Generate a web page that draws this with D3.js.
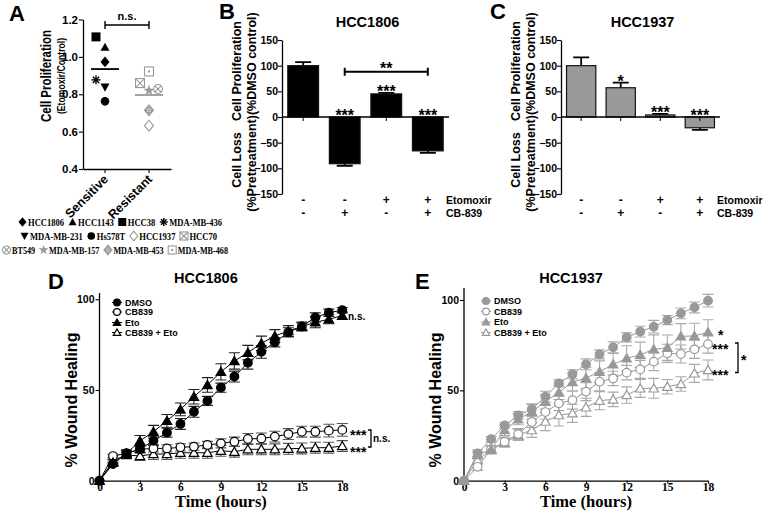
<!DOCTYPE html>
<html><head><meta charset="utf-8">
<script src="https://cdn.jsdelivr.net/npm/d3@7"></script>
<style>body{margin:0;background:#fff}svg{display:block}</style>
</head><body>
<svg id="c" width="768" height="511"></svg>
<script>
// ---------------- DATA ----------------
// Panel A
const groupLabels = ["Sensitive", "Resistant"];
const sensitiveLines = ["HCC38", "HCC1143", "HCC1806", "MDA-MB-436", "MDA-MB-231", "Hs578T"];
const sensitiveValues = [1.107, 1.052, 0.973, 0.877, 0.838, 0.762];
const resistantLines = ["MDA-MB-468", "HCC70", "MDA-MB-157", "BT549", "MDA-MB-453", "HCC1937"];
const resistantValues = [0.922, 0.860, 0.820, 0.828, 0.714, 0.632];
const aTicks = [0.4, 0.6, 0.8, 1.0, 1.2];
const legendRows = [
  ["HCC1806", "HCC1143", "HCC38", "MDA-MB-436"],
  ["MDA-MB-231", "Hs578T", "HCC1937", "HCC70"],
  ["BT549", "MDA-MB-157", "MDA-MB-453", "MDA-MB-468"]
];
// Panels B, C
const treatments = ["DMSO", "CB-839", "Etomoxir", "CB-839 + Etomoxir"];
const etoSigns = ["-", "-", "+", "+"];
const cbSigns = ["-", "+", "-", "+"];
const hcc1806Values = [100, -91, 45, -66];
const hcc1806Errors = [7, 4, 2, 4];
const hcc1806Stars = ["", "***", "***", "***"];
const hcc1937Values = [100, 57, 4, -21];
const hcc1937Errors = [16, 10, 2, 4];
const hcc1937Stars = ["", "*", "***", "***"];
const barTicks = [-150, -100, -50, 0, 50, 100, 150];
// Panels D, E
const hours = [0,1,2,3,4,5,6,7,8,9,10,11,12,13,14,15,16,17,18];
const hourTicks = [0, 3, 6, 9, 12, 15, 18];
const woundTicks = [0, 50, 100];
const seriesNames = ["DMSO", "CB839", "Eto", "CB839 + Eto"];
const d1806DMSO  = [0, 9.2, 15, 17.5, 22, 26.5, 31.3, 38, 44, 51.3, 57.4, 65, 71, 76.3, 81.8, 85, 90, 92.6, 94];
const d1806CB    = [0, 13.6, 15, 17.3, 17.8, 17.8, 18.4, 18.8, 19.7, 20.6, 21.5, 23, 23.3, 24.3, 25.7, 27, 27, 27.6, 28];
const d1806Eto   = [0, 10, 15, 21.9, 27, 33, 39.3, 46.3, 52.8, 60, 66, 70.6, 75.7, 79.8, 82.5, 85, 87.3, 89, 91];
const d1806CBEto = [0, 10.7, 14.2, 13.6, 14.7, 14.7, 15.4, 15.4, 15.4, 16.5, 16, 17.3, 17.3, 17.3, 17.6, 17.8, 18.2, 18.2, 19.1];
const d1806DMSOErr  = [0, 1, 1.5, 2, 2.5, 2.5, 3, 3, 2.5, 2.5, 3, 3.5, 3.5, 2.5, 2.5, 2, 2.5, 2, 1.5];
const d1806CBErr    = [0, 1, 1.5, 2, 2, 2, 2, 2, 2, 2.5, 2.5, 3, 3, 3, 3, 3, 3, 3.5, 3.5];
const d1806EtoErr   = [0, 1.5, 2, 3, 3.5, 3.5, 3.5, 4, 4, 4.5, 4.5, 4, 4, 3.5, 3, 2.5, 3, 2.5, 2];
const d1806CBEtoErr = [0, 1, 1.5, 2.5, 3, 3, 3, 3, 3, 3, 3, 3, 3, 3, 3, 3, 3, 3, 3];
const e1937DMSO  = [0, 15.1, 23, 30.6, 36.2, 39.5, 46.5, 53.9, 58.9, 64.4, 69.9, 73.8, 79.3, 82.5, 85.2, 88.9, 92.6, 95.9, 99.6];
const e1937CB    = [0, 7.7, 17.3, 21.6, 25.8, 32.5, 38, 42.8, 44.6, 49.3, 54.8, 56.6, 59.8, 61.6, 65.9, 70.5, 70.1, 72.7, 75.6];
const e1937Eto   = [0, 14.2, 17.3, 28, 34, 38.2, 43.7, 48.9, 54.6, 56.8, 60.3, 64.4, 67.7, 69.7, 72.7, 73.6, 79.9, 80.1, 82.1];
const e1937CBEto = [0, 11.4, 17, 21, 25.3, 28, 32.7, 36.3, 37.3, 40.6, 44.3, 45, 47.4, 51.1, 51.1, 52, 53.5, 59.4, 61.3];
const e1937DMSOErr  = [0, 2, 1.5, 1.5, 2, 3, 3, 2, 2.5, 3, 2.5, 3, 2.5, 3, 3.5, 2.5, 3, 3, 3.5];
const e1937CBErr    = [0, 2, 2, 2.5, 3, 3, 4, 4, 5, 5, 5, 4, 4, 5, 5, 5, 5, 5, 5];
const e1937EtoErr   = [0, 2, 2, 3, 3, 4, 4, 4, 5, 6, 6, 6, 7, 7, 8, 7, 7, 7, 7];
const e1937CBEtoErr = [0, 2, 2, 2.5, 3, 4, 5, 6, 5, 5, 5, 4, 4.5, 5, 5.5, 4, 4, 5, 5.5];

// ---------------- STYLE / LAYOUT ----------------
const SANS = "'Liberation Sans', Arial, Helvetica, sans-serif";
const SERIF = "'Liberation Serif', 'Times New Roman', serif";
const GRAY = "#999";
const markerOf = {
  "HCC1806": "diamond", "HCC1143": "triangle", "HCC38": "square", "MDA-MB-436": "asterisk",
  "MDA-MB-231": "triangleDown", "Hs578T": "circle", "HCC1937": "diamondOpen", "HCC70": "squareX",
  "BT549": "circleX", "MDA-MB-157": "star", "MDA-MB-453": "diamondPlus", "MDA-MB-468": "squareDot"
};
const resistantSet = new Set(resistantLines);
const jitterOf = {"HCC38": -9, "MDA-MB-436": -9, "HCC70": -9, "BT549": 9};

const svg = d3.select("#c");

function txt(g, x, y, s, o = {}) {
  const t = g.append("text").attr("x", x).attr("y", y).text(s)
    .attr("font-family", o.family || SANS).attr("font-size", o.size || 12)
    .attr("font-weight", o.weight || "bold").attr("text-anchor", o.anchor || "start")
    .attr("fill", o.fill || "#000");
  if (o.rotate != null) t.attr("transform", `rotate(${o.rotate},${x},${y})`);
  if (o.len) t.attr("textLength", o.len).attr("lengthAdjust", "spacingAndGlyphs");
  return t;
}

function drawMarker(g, type, cx, cy, s, color) {
  const h = s / 2, sw = 1.1;
  const m = g.append("g").attr("transform", `translate(${cx},${cy})`);
  const ln = (x1, y1, x2, y2, w) => m.append("line").attr("x1", x1).attr("y1", y1).attr("x2", x2).attr("y2", y2)
    .attr("stroke", color).attr("stroke-width", w || sw);
  const dia = `M0,${-h * 1.2}L${h},0L0,${h * 1.2}L${-h},0Z`;
  switch (type) {
    case "diamond": m.append("path").attr("d", dia).attr("fill", color); break;
    case "triangle": m.append("path").attr("d", `M0,${-h}L${h},${h * 0.8}L${-h},${h * 0.8}Z`).attr("fill", color); break;
    case "triangleDown": m.append("path").attr("d", `M0,${h}L${h},${-h * 0.8}L${-h},${-h * 0.8}Z`).attr("fill", color); break;
    case "square": m.append("rect").attr("x", -h).attr("y", -h).attr("width", s).attr("height", s).attr("fill", color); break;
    case "circle": m.append("circle").attr("r", h * 0.95).attr("fill", color); break;
    case "asterisk":
      for (let a = 0; a < 180; a += 45) { const r = a * Math.PI / 180; ln(-h * Math.cos(r), -h * Math.sin(r), h * Math.cos(r), h * Math.sin(r), 1.4); }
      break;
    case "diamondOpen": m.append("path").attr("d", dia).attr("fill", "#fff").attr("stroke", color).attr("stroke-width", sw); break;
    case "squareX":
      m.append("rect").attr("x", -h).attr("y", -h).attr("width", s).attr("height", s).attr("fill", "#fff").attr("stroke", color).attr("stroke-width", sw);
      ln(-h, -h, h, h); ln(-h, h, h, -h); break;
    case "circleX":
      m.append("circle").attr("r", h).attr("fill", "#fff").attr("stroke", color).attr("stroke-width", sw);
      ln(-h * 0.7, -h * 0.7, h * 0.7, h * 0.7); ln(-h * 0.7, h * 0.7, h * 0.7, -h * 0.7); break;
    case "star": m.append("path").attr("d", d3.symbol(d3.symbolStar, s * s * 0.5)()).attr("fill", color); break;
    case "diamondPlus":
      m.append("path").attr("d", dia).attr("fill", "#fff").attr("stroke", color).attr("stroke-width", sw);
      m.append("circle").attr("r", h * 0.6).attr("fill", "none").attr("stroke", color).attr("stroke-width", sw);
      ln(0, -h * 1.2, 0, h * 1.2); ln(-h, 0, h, 0); break;
    case "squareDot":
      m.append("rect").attr("x", -h).attr("y", -h).attr("width", s).attr("height", s).attr("fill", "#fff").attr("stroke", color).attr("stroke-width", sw);
      m.append("rect").attr("x", -1).attr("y", -1).attr("width", 2).attr("height", 2).attr("fill", color); break;
  }
  return m;
}

function styleAxis(ax, size, family) {
  ax.select(".domain").attr("stroke", "#000").attr("stroke-width", 1.3);
  ax.selectAll(".tick line").attr("stroke", "#000").attr("stroke-width", 1.1);
  ax.selectAll(".tick text").attr("font-family", family || SANS).attr("font-size", size).attr("font-weight", "bold").attr("fill", "#000");
}

// ---------------- PANEL A ----------------
(function () {
  const g = svg.append("g");
  txt(g, 9, 21, "A", {size: 22});
  const y = d3.scaleLinear().domain([0.4, 1.2]).range([169, 19.5]);
  const x = d3.scaleBand().domain(groupLabels).range([83, 171]);
  const cx = d => x(d) + x.bandwidth() / 2;
  const ya = g.append("g").attr("transform", "translate(83,0)")
    .call(d3.axisLeft(y).tickValues(aTicks).tickFormat(d3.format(".1f")).tickSize(4).tickSizeOuter(0));
  styleAxis(ya, 11.5);
  ya.selectAll(".tick text").attr("x", -5);
  const xa = g.append("g").attr("transform", "translate(0,169)")
    .call(d3.axisBottom(x).tickSize(4).tickSizeOuter(0).tickFormat(""));
  styleAxis(xa, 11);
  groupLabels.forEach(d => txt(g, cx(d) + 4, 180, d, {size: 12.5, anchor: "end", rotate: -45}));
  txt(g, 51, 76, "Cell Proliferation", {size: 15, anchor: "middle", rotate: -90, len: 92});
  txt(g, 64.5, 76, "(Etomoxir/Control)", {size: 11.5, anchor: "middle", rotate: -90, len: 76});

  const groups = [
    {label: groupLabels[0], names: sensitiveLines, values: sensitiveValues, color: "#000"},
    {label: groupLabels[1], names: resistantLines, values: resistantValues, color: GRAY}
  ];
  groups.forEach(gr => {
    const mean = d3.mean(gr.values);
    g.append("line").attr("x1", cx(gr.label) - 14).attr("x2", cx(gr.label) + 14)
      .attr("y1", y(mean)).attr("y2", y(mean)).attr("stroke", gr.color).attr("stroke-width", 1.8);
    gr.names.forEach((n, i) => drawMarker(g, markerOf[n], cx(gr.label) + (jitterOf[n] || 0), y(gr.values[i]), 9, gr.color));
  });
  // n.s. bracket
  const x1 = cx(groupLabels[0]), x2 = cx(groupLabels[1]), yb = 25;
  g.append("path").attr("d", `M${x1},${yb - 4}V${yb + 4}M${x1},${yb}H${x2}M${x2},${yb - 4}V${yb + 4}`)
    .attr("stroke", "#000").attr("stroke-width", 1.4).attr("fill", "none");
  txt(g, (x1 + x2) / 2, 20, "n.s.", {size: 11, anchor: "middle"});

  // legend
  const rowY = [222, 236, 250], rowX = [18, 20, 2], rowW = [204, 197, 226];
  legendRows.forEach((row, r) => {
    const lg = g.append("g");
    const texts = [];
    row.forEach(n => {
      const t = txt(lg, 0, rowY[r] + 3.6, n, {family: SERIF, size: 10.5});
      texts.push(t);
    });
    const widths = texts.map(t => t.node().getComputedTextLength());
    const symW = 10, gap = 4;
    const avail = rowW[r] - row.length * symW - (row.length - 1) * gap;
    const f = avail / d3.sum(widths);
    let cur = rowX[r];
    row.forEach((n, i) => {
      drawMarker(lg, markerOf[n], cur + 4.5, rowY[r], 8, resistantSet.has(n) ? GRAY : "#000");
      texts[i].attr("x", cur + symW).attr("textLength", widths[i] * f).attr("lengthAdjust", "spacingAndGlyphs");
      cur += symW + widths[i] * f + gap;
    });
  });
})();

// ---------------- PANELS B, C ----------------
function barPanel(o) {
  const g = svg.append("g");
  txt(g, o.letterX, 19, o.letter, {size: 22});
  const y = d3.scaleLinear().domain([-150, 150]).range([194, 40]);
  const x = d3.scaleBand().domain(treatments).range([o.ax, o.xr]).paddingInner(0.26).paddingOuter(0.14);
  const cx = i => x(treatments[i]) + x.bandwidth() / 2;
  txt(g, (o.ax + o.xr) / 2 + 2, 27, o.title, {size: 14.5, anchor: "middle"});
  // error bars
  o.values.forEach((v, i) => {
    const e = v >= 0 ? v + o.errors[i] : v - o.errors[i];
    g.append("path").attr("d", `M${cx(i)},${y(v)}V${y(e)}M${cx(i) - 8},${y(e)}H${cx(i) + 8}`)
      .attr("stroke", "#000").attr("stroke-width", 1.8).attr("fill", "none");
  });
  g.selectAll(null).data(o.values).join("rect")
    .attr("x", (d, i) => x(treatments[i])).attr("width", x.bandwidth())
    .attr("y", d => y(Math.max(0, d))).attr("height", d => Math.abs(y(d) - y(0)))
    .attr("fill", o.fill).attr("stroke", "#111").attr("stroke-width", 1.2);
  const ya = g.append("g").attr("transform", `translate(${o.ax},0)`)
    .call(d3.axisLeft(y).tickValues(barTicks).tickSize(4).tickSizeOuter(0));
  styleAxis(ya, 10.5);
  ya.selectAll(".tick text").attr("x", -4);
  g.append("line").attr("x1", o.ax).attr("x2", o.xr).attr("y1", y(0)).attr("y2", y(0)).attr("stroke", "#000").attr("stroke-width", 1.5);
  treatments.forEach((t, i) => g.append("line").attr("x1", cx(i)).attr("x2", cx(i)).attr("y1", y(0)).attr("y2", y(0) + 4).attr("stroke", "#000").attr("stroke-width", 1));
  // stars
  o.stars.forEach((s, i) => {
    if (!s) return;
    const v = o.values[i], top = v >= 0 ? v + o.errors[i] : 0;
    txt(g, cx(i), y(top) + 4, s, {size: 16, anchor: "middle"});
  });
  if (o.bracket) {
    const a = cx(o.bracket[0]), b = cx(o.bracket[1]), yb = y(o.bracket[2]);
    g.append("path").attr("d", `M${a},${yb - 4}V${yb + 4}M${a},${yb}H${b}M${b},${yb - 4}V${yb + 4}`)
      .attr("stroke", "#000").attr("stroke-width", 2).attr("fill", "none");
    txt(g, (a + b) / 2, yb + 2, o.bracket[3], {size: 16, anchor: "middle"});
  }
  // treatment table
  etoSigns.forEach((s, i) => txt(g, cx(i), 204, s, {size: 12, anchor: "middle"}));
  cbSigns.forEach((s, i) => txt(g, cx(i), 217, s, {size: 12, anchor: "middle"}));
  txt(g, o.xr - 3, 204, "Etomoxir", {size: 10.5});
  txt(g, o.xr - 3, 217, "CB-839", {size: 10.5});
  // y labels
  txt(g, o.ax - 41, 71, "Cell Proliferation", {size: 12.5, anchor: "middle", rotate: -90});
  txt(g, o.ax - 41, 160, "Cell Loss", {size: 12.5, anchor: "middle", rotate: -90});
  txt(g, o.ax - 26, 112, "(%Pretreatment)(%DMSO control)", {size: 12.5, anchor: "middle", rotate: -90});
}
barPanel({letter: "B", letterX: 219, ax: 282, xr: 449, title: "HCC1806", fill: "#000",
  values: hcc1806Values, errors: hcc1806Errors, stars: hcc1806Stars, bracket: [1, 3, 88, "**"]});
barPanel({letter: "C", letterX: 490, ax: 561, xr: 720, title: "HCC1937", fill: "#999",
  values: hcc1937Values, errors: hcc1937Errors, stars: hcc1937Stars});

// ---------------- PANELS D, E ----------------
function seriesMarker(g, type, filled, cx, cy, r, color) {
  let el;
  if (type === "circle") el = g.append("circle").attr("cx", cx).attr("cy", cy).attr("r", r);
  else el = g.append("path").attr("d", `M${cx},${cy - r * 1.05}L${cx + r * 1.1},${cy + r * 0.85}L${cx - r * 1.1},${cy + r * 0.85}Z`);
  el.attr("fill", filled ? color : "#fff").attr("stroke", color).attr("stroke-width", 1.2);
  return el;
}

function linePanel(o) {
  const g = svg.append("g");
  txt(g, o.letterX, 289, o.letter, {size: 22});
  txt(g, (o.x0 + o.x1) / 2 - 15, 283, o.title, {size: 14.5, anchor: "middle"});
  const x = d3.scaleLinear().domain([0, 18]).range([o.x0, o.x1]);
  const y = d3.scaleLinear().domain([0, 100]).range([480.7, o.y100]);
  const ya = g.append("g").attr("transform", `translate(${o.x0},0)`)
    .call(d3.axisLeft(y).tickValues(woundTicks).tickSize(4).tickSizeOuter(0));
  styleAxis(ya, 10.5);
  ya.select(".domain").attr("d", `M0,${y(0)}V${o.yTop}`);
  ya.selectAll(".tick text").attr("x", -5);
  const xa = g.append("g").attr("transform", `translate(0,${y(0)})`)
    .call(d3.axisBottom(x).tickValues(hourTicks).tickSize(3).tickSizeOuter(0));
  styleAxis(xa, 11.5, SERIF);
  xa.selectAll(".tick text").attr("y", 2);
  txt(g, (o.x0 + o.x1) / 2, 507, "Time (hours)", {family: SERIF, size: 16.5, anchor: "middle"});
  txt(g, o.x0 - 23, 400, "% Wound Healing", {size: 16, anchor: "middle", rotate: -90});

  const line = d3.line().x((d, i) => x(hours[i])).y(d => y(d));
  const order = [3, 1, 2, 0];
  order.forEach(k => {
    const s = o.series[k];
    g.append("path").attr("d", line(s.values)).attr("fill", "none").attr("stroke", o.color).attr("stroke-width", 1);
  });
  order.forEach(k => {
    const s = o.series[k];
    s.values.forEach((v, i) => {
      if (!s.errors[i]) return;
      const xx = x(hours[i]), a = y(v - s.errors[i]), b = y(v + s.errors[i]);
      g.append("path").attr("d", `M${xx},${a}V${b}M${xx - 5.5},${a}H${xx + 5.5}M${xx - 5.5},${b}H${xx + 5.5}`)
        .attr("stroke", s.errColor).attr("stroke-width", 1.1).attr("fill", "none");
    });
  });
  order.forEach(k => {
    const s = o.series[k];
    s.values.forEach((v, i) => seriesMarker(g, s.type, s.filled, x(hours[i]), y(v), 4.3, o.color));
  });
  // legend
  o.series.forEach((s, k) => {
    const ly = o.legY[k];
    g.append("line").attr("x1", o.legX - 5).attr("x2", o.legX + 5).attr("y1", ly).attr("y2", ly).attr("stroke", o.color).attr("stroke-width", 1);
    seriesMarker(g, s.type, s.filled, o.legX, ly, 3.4, o.color);
    txt(g, o.legX + 8, ly + 3.3, seriesNames[k], {size: 9});
  });
  o.notes.forEach(n => txt(g, n[0], n[1], n[2], {size: n[3]}));
  o.brackets.forEach(b => {
    g.append("path").attr("d", `M${b[0] - 3},${b[1]}H${b[0]}V${b[2]}H${b[0] - 3}`).attr("stroke", "#000").attr("stroke-width", 1.3).attr("fill", "none");
  });
}

linePanel({letter: "D", letterX: 48, title: "HCC1806", x0: 99.5, x1: 342.3, y100: 299.3, yTop: 293, color: "#000",
  legX: 117, legY: [302.5, 312, 322.5, 332.5],
  series: [
    {values: d1806DMSO, errors: d1806DMSOErr, type: "circle", filled: true, errColor: "#222"},
    {values: d1806CB, errors: d1806CBErr, type: "circle", filled: false, errColor: "#555"},
    {values: d1806Eto, errors: d1806EtoErr, type: "triangle", filled: true, errColor: "#222"},
    {values: d1806CBEto, errors: d1806CBEtoErr, type: "triangle", filled: false, errColor: "#555"}
  ],
  notes: [[348, 320, "n.s.", 10], [350, 440, "***", 14], [350, 456.5, "***", 14], [373, 442, "n.s.", 10]],
  brackets: [[371, 430, 447]]
});
linePanel({letter: "E", letterX: 415, title: "HCC1937", x0: 464, x1: 708, y100: 300, yTop: 288, color: "#999",
  legX: 486, legY: [301, 311.5, 322, 332.5],
  series: [
    {values: e1937DMSO, errors: e1937DMSOErr, type: "circle", filled: true, errColor: "#aaa"},
    {values: e1937CB, errors: e1937CBErr, type: "circle", filled: false, errColor: "#aaa"},
    {values: e1937Eto, errors: e1937EtoErr, type: "triangle", filled: true, errColor: "#aaa"},
    {values: e1937CBEto, errors: e1937CBEtoErr, type: "triangle", filled: false, errColor: "#aaa"}
  ],
  notes: [[718, 339.5, "*", 14], [712, 354, "***", 14], [712, 380, "***", 14], [741, 365, "*", 14]],
  brackets: [[738, 343, 372.5]]
});
</script>
</body></html>
